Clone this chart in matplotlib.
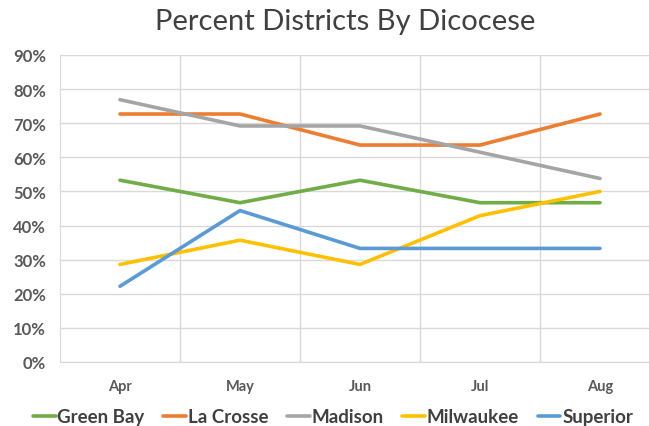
import numpy as np
import matplotlib.pyplot as plt
from matplotlib.ticker import PercentFormatter

plt.rcParams['font.family'] = ['Lato', 'DejaVu Sans']

months = ['Apr', 'May', 'Jun', 'Jul', 'Aug']
green_bay = [53.3, 46.7, 53.3, 46.7, 46.7]
la_crosse = [72.7, 72.7, 63.6, 63.6, 72.7]
madison = [76.9, 69.2, 69.2, 61.5, 53.8]
milwaukee = [28.6, 35.7, 28.6, 42.9, 50.0]
superior = [22.2, 44.4, 33.3, 33.3, 33.3]

series = [
    ('Green Bay', green_bay, '#70AD47'),
    ('La Crosse', la_crosse, '#ED7D31'),
    ('Madison', madison, '#A5A5A5'),
    ('Milwaukee', milwaukee, '#FFC000'),
    ('Superior', superior, '#5B9BD5'),
]

fig = plt.figure(figsize=(6.49, 4.27), dpi=100)
ax = fig.add_axes([60 / 649, 64 / 427, 600 / 649, 307 / 427])

x = np.arange(len(months))
for name, vals, col in series:
    ax.plot(x, vals, color=col, lw=2.6, label=name, solid_capstyle='round', zorder=3)

ax.set_xlim(-0.5, len(months) - 0.5)
ax.set_ylim(0, 90)
ax.set_yticks(np.arange(0, 91, 10))
ax.yaxis.set_major_formatter(PercentFormatter(decimals=0))
ax.set_xticks(x)
ax.set_xticklabels(months)
ax.set_xticks(np.arange(0.5, len(months) - 0.5, 1), minor=True)

grid_col = '#D9D9D9'
ax.grid(axis='y', which='major', color=grid_col, lw=1)
ax.grid(axis='x', which='minor', color=grid_col, lw=1)
for s in ['top', 'right']:
    ax.spines[s].set_visible(False)
for s in ['left', 'bottom']:
    ax.spines[s].set_color(grid_col)
ax.tick_params(which='both', length=0)
ax.tick_params(axis='y', labelsize=12, labelcolor='#595959', pad=10)
ax.tick_params(axis='x', labelsize=10.5, labelcolor='#595959', pad=12)
for lab in ax.get_xticklabels() + ax.get_yticklabels():
    lab.set_fontweight('bold')

fig.text(345 / 649, 1 - 22 / 427, 'Percent Districts By Dicocese', ha='center', va='center',
         fontsize=21, color='#404040')

leg = fig.legend(loc='center', bbox_to_anchor=(333 / 649, 1 - 418 / 427), ncol=5, frameon=False,
                 prop={'size': 13.5, 'weight': 'bold'}, handlelength=1.2, handletextpad=0.1,
                 columnspacing=1.0)
for t in leg.get_texts():
    t.set_color('#404040')

fig.savefig('out.png', dpi=100)
